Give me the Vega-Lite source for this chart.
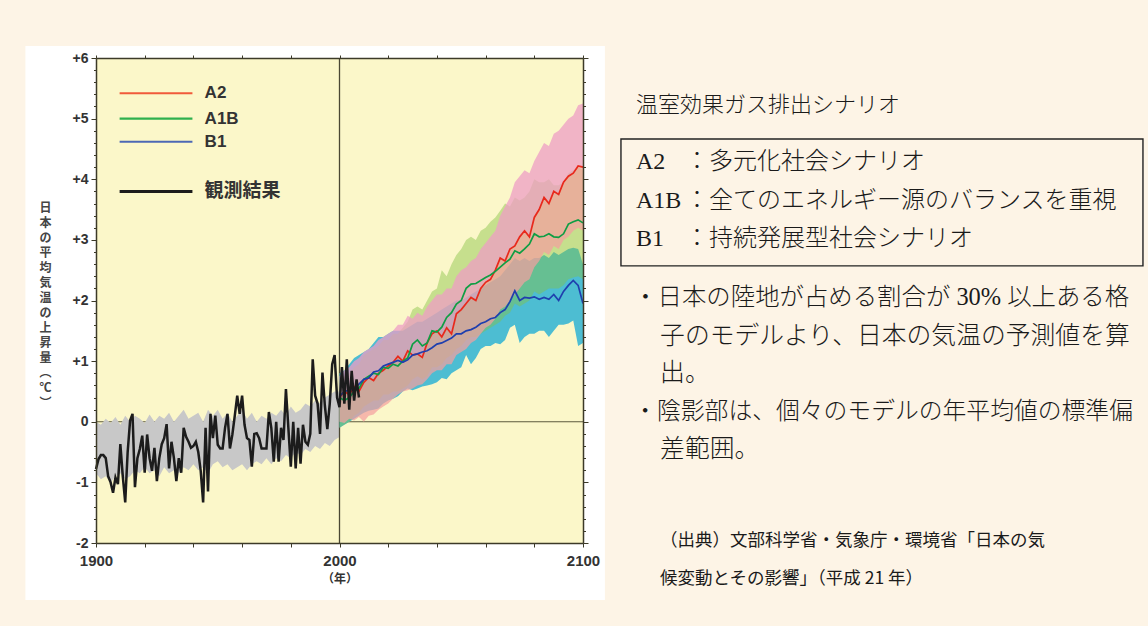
{
  "$schema": "https://vega.github.io/schema/vega-lite/v6.json",
  "background": "#fdf4e6",
  "padding": {"left": 25, "top": 45, "right": 0, "bottom": 0},
  "spacing": 15,
  "config": {"view": {"stroke": null}},
  "datasets": {
    "obs": [
      {"year":1900,"v":-0.78},{"year":1901,"v":-0.62},{"year":1902,"v":-0.55},{"year":1903,"v":-0.55},{"year":1904,"v":-0.6},
      {"year":1905,"v":-0.9},{"year":1906,"v":-1.0},{"year":1907,"v":-1.17},{"year":1908,"v":-0.92},{"year":1909,"v":-1.03},
      {"year":1910,"v":-0.37},{"year":1911,"v":-0.9},{"year":1912,"v":-1.33},{"year":1913,"v":-0.5},{"year":1914,"v":0.02},
      {"year":1915,"v":0.13},{"year":1916,"v":-1.08},{"year":1917,"v":-0.6},{"year":1918,"v":-0.45},{"year":1919,"v":-0.23},
      {"year":1920,"v":-0.84},{"year":1921,"v":-0.21},{"year":1922,"v":-0.6},{"year":1923,"v":-0.81},{"year":1924,"v":-0.43},
      {"year":1925,"v":-0.98},{"year":1926,"v":-0.6},{"year":1927,"v":-0.37},{"year":1928,"v":-0.27},{"year":1929,"v":-0.04},
      {"year":1930,"v":-0.77},{"year":1931,"v":-0.33},{"year":1932,"v":-0.6},{"year":1933,"v":-0.98},{"year":1934,"v":-0.6},
      {"year":1935,"v":-0.84},{"year":1936,"v":-0.1},{"year":1937,"v":-0.25},{"year":1938,"v":-0.33},{"year":1939,"v":-0.43},
      {"year":1940,"v":-0.4},{"year":1941,"v":-0.33},{"year":1942,"v":-0.5},{"year":1943,"v":-0.81},{"year":1944,"v":-1.33},
      {"year":1945,"v":-0.1},{"year":1946,"v":-1.15},{"year":1947,"v":0.13},{"year":1948,"v":-0.27},{"year":1949,"v":0.1},
      {"year":1950,"v":-0.38},{"year":1951,"v":-0.44},{"year":1952,"v":-0.44},{"year":1953,"v":-0.1},{"year":1954,"v":0.13},
      {"year":1955,"v":-0.44},{"year":1956,"v":-0.21},{"year":1957,"v":0.1},{"year":1958,"v":0.43},{"year":1959,"v":0.13},
      {"year":1960,"v":0.43},{"year":1961,"v":-0.05},{"year":1962,"v":-0.27},{"year":1963,"v":-0.3},{"year":1964,"v":-0.74},
      {"year":1965,"v":-0.2},{"year":1966,"v":-0.19},{"year":1967,"v":-0.27},{"year":1968,"v":-0.44},{"year":1969,"v":-0.44},
      {"year":1970,"v":-0.44},{"year":1971,"v":0.16},{"year":1972,"v":-0.1},{"year":1973,"v":-0.66},{"year":1974,"v":0.0},
      {"year":1975,"v":-0.66},{"year":1976,"v":-0.1},{"year":1977,"v":-0.3},{"year":1978,"v":0.54},{"year":1979,"v":-0.1},
      {"year":1980,"v":-0.74},{"year":1981,"v":0.0},{"year":1982,"v":-0.77},{"year":1983,"v":-0.1},{"year":1984,"v":-0.69},
      {"year":1985,"v":-0.05},{"year":1986,"v":-0.33},{"year":1987,"v":-0.38},{"year":1988,"v":-0.2},{"year":1989,"v":1.03},
      {"year":1990,"v":0.43},{"year":1991,"v":0.3},{"year":1992,"v":-0.2},{"year":1993,"v":0.81},{"year":1994,"v":0.26},
      {"year":1995,"v":-0.12},{"year":1996,"v":0.3},{"year":1997,"v":0.95},{"year":1998,"v":1.1},{"year":1999,"v":0.4},
      {"year":2000,"v":0.24},{"year":2001,"v":0.9},{"year":2002,"v":0.3},{"year":2003,"v":1.03},{"year":2004,"v":0.2},
      {"year":2005,"v":0.84},{"year":2006,"v":0.35},{"year":2007,"v":0.7},{"year":2008,"v":0.4}
    ],
    "grey": [
      {"year":1900,"lo":-0.85,"hi":0.0},{"year":1902,"lo":-0.95,"hi":-0.05},{"year":1904,"lo":-0.9,"hi":0.05},{"year":1906,"lo":-1.0,"hi":-0.02},
      {"year":1908,"lo":-0.9,"hi":0.08},{"year":1910,"lo":-0.85,"hi":-0.05},{"year":1912,"lo":-0.95,"hi":0.1},{"year":1914,"lo":-0.9,"hi":0.0},
      {"year":1916,"lo":-0.8,"hi":0.1},{"year":1918,"lo":-0.85,"hi":0.05},{"year":1920,"lo":-0.75,"hi":-0.02},{"year":1922,"lo":-0.85,"hi":0.12},
      {"year":1924,"lo":-0.8,"hi":0.0},{"year":1926,"lo":-0.9,"hi":0.1},{"year":1928,"lo":-0.75,"hi":0.05},{"year":1930,"lo":-0.85,"hi":0.15},
      {"year":1932,"lo":-0.8,"hi":0.0},{"year":1934,"lo":-0.85,"hi":0.1},{"year":1936,"lo":-0.75,"hi":0.2},{"year":1938,"lo":-0.8,"hi":0.05},
      {"year":1940,"lo":-0.7,"hi":0.1},{"year":1942,"lo":-0.8,"hi":0.15},{"year":1944,"lo":-0.75,"hi":0.0},{"year":1946,"lo":-0.85,"hi":0.2},
      {"year":1948,"lo":-0.7,"hi":0.1},{"year":1950,"lo":-0.65,"hi":0.2},{"year":1952,"lo":-0.75,"hi":0.05},{"year":1954,"lo":-0.7,"hi":0.15},
      {"year":1956,"lo":-0.8,"hi":0.0},{"year":1958,"lo":-0.75,"hi":0.1},{"year":1960,"lo":-0.7,"hi":0.2},{"year":1962,"lo":-0.8,"hi":0.05},
      {"year":1964,"lo":-0.7,"hi":0.15},{"year":1966,"lo":-0.65,"hi":0.0},{"year":1968,"lo":-0.7,"hi":0.1},{"year":1970,"lo":-0.6,"hi":0.05},
      {"year":1972,"lo":-0.7,"hi":0.15},{"year":1974,"lo":-0.6,"hi":0.1},{"year":1976,"lo":-0.65,"hi":0.2},{"year":1978,"lo":-0.55,"hi":0.1},
      {"year":1980,"lo":-0.6,"hi":0.25},{"year":1982,"lo":-0.5,"hi":0.15},{"year":1984,"lo":-0.55,"hi":0.2},{"year":1986,"lo":-0.45,"hi":0.3},
      {"year":1988,"lo":-0.5,"hi":0.25},{"year":1990,"lo":-0.4,"hi":0.35},{"year":1992,"lo":-0.45,"hi":0.3},{"year":1994,"lo":-0.35,"hi":0.4},
      {"year":1996,"lo":-0.4,"hi":0.45},{"year":1998,"lo":-0.3,"hi":0.5},{"year":2000,"lo":-0.25,"hi":0.5}
    ],
    "proj": [
      {"year":2000,"s":"A2","m":0.40,"lo":0.00,"hi":0.75},{"year":2002,"s":"A2","m":0.50,"lo":-0.02,"hi":0.85},{"year":2004,"s":"A2","m":0.45,"lo":0.05,"hi":0.90},
      {"year":2006,"s":"A2","m":0.58,"lo":0.02,"hi":1.00},{"year":2008,"s":"A2","m":0.50,"lo":0.08,"hi":1.05},{"year":2010,"s":"A2","m":0.65,"lo":0.00,"hi":1.15},
      {"year":2012,"s":"A2","m":0.73,"lo":0.10,"hi":1.20},{"year":2014,"s":"A2","m":0.68,"lo":0.12,"hi":1.25},{"year":2016,"s":"A2","m":0.80,"lo":0.20,"hi":1.35},
      {"year":2018,"s":"A2","m":0.85,"lo":0.25,"hi":1.40},{"year":2020,"s":"A2","m":0.92,"lo":0.30,"hi":1.45},{"year":2022,"s":"A2","m":0.98,"lo":0.38,"hi":1.50},
      {"year":2024,"s":"A2","m":1.08,"lo":0.45,"hi":1.60},{"year":2026,"s":"A2","m":1.00,"lo":0.50,"hi":1.60},{"year":2028,"s":"A2","m":1.17,"lo":0.52,"hi":1.75},
      {"year":2030,"s":"A2","m":1.10,"lo":0.55,"hi":1.70},{"year":2032,"s":"A2","m":1.12,"lo":0.60,"hi":1.80},{"year":2034,"s":"A2","m":1.06,"lo":0.62,"hi":1.75},
      {"year":2036,"s":"A2","m":1.30,"lo":0.70,"hi":1.90},{"year":2038,"s":"A2","m":1.45,"lo":0.80,"hi":2.00},{"year":2040,"s":"A2","m":1.50,"lo":0.85,"hi":2.10},
      {"year":2042,"s":"A2","m":1.40,"lo":0.85,"hi":2.10},{"year":2044,"s":"A2","m":1.55,"lo":0.95,"hi":2.20},{"year":2046,"s":"A2","m":1.45,"lo":0.95,"hi":2.20},
      {"year":2048,"s":"A2","m":1.78,"lo":1.10,"hi":2.40},{"year":2050,"s":"A2","m":1.85,"lo":1.15,"hi":2.50},{"year":2052,"s":"A2","m":1.95,"lo":1.20,"hi":2.55},
      {"year":2054,"s":"A2","m":2.05,"lo":1.30,"hi":2.65},{"year":2056,"s":"A2","m":2.00,"lo":1.35,"hi":2.70},{"year":2058,"s":"A2","m":2.20,"lo":1.45,"hi":2.85},
      {"year":2060,"s":"A2","m":2.30,"lo":1.55,"hi":2.95},{"year":2062,"s":"A2","m":2.35,"lo":1.60,"hi":3.05},{"year":2064,"s":"A2","m":2.50,"lo":1.70,"hi":3.15},
      {"year":2066,"s":"A2","m":2.70,"lo":1.85,"hi":3.40},{"year":2068,"s":"A2","m":2.65,"lo":1.90,"hi":3.55},{"year":2070,"s":"A2","m":2.85,"lo":2.00,"hi":3.70},
      {"year":2072,"s":"A2","m":2.90,"lo":2.10,"hi":3.95},{"year":2074,"s":"A2","m":3.05,"lo":2.20,"hi":4.05},{"year":2076,"s":"A2","m":3.15,"lo":2.30,"hi":4.15},
      {"year":2078,"s":"A2","m":3.05,"lo":2.35,"hi":4.10},{"year":2080,"s":"A2","m":3.37,"lo":2.55,"hi":4.30},{"year":2082,"s":"A2","m":3.50,"lo":2.65,"hi":4.45},
      {"year":2084,"s":"A2","m":3.70,"lo":2.80,"hi":4.60},{"year":2086,"s":"A2","m":3.60,"lo":2.75,"hi":4.55},{"year":2088,"s":"A2","m":3.80,"lo":2.90,"hi":4.75},
      {"year":2090,"s":"A2","m":3.75,"lo":2.85,"hi":4.80},{"year":2092,"s":"A2","m":3.95,"lo":3.00,"hi":4.90},{"year":2094,"s":"A2","m":4.05,"lo":3.05,"hi":5.00},
      {"year":2096,"s":"A2","m":4.10,"lo":3.15,"hi":5.05},{"year":2098,"s":"A2","m":4.22,"lo":3.20,"hi":5.22},{"year":2100,"s":"A2","m":4.20,"lo":3.15,"hi":5.25},

      {"year":2000,"s":"A1B","m":0.40,"lo":-0.10,"hi":0.70},{"year":2002,"s":"A1B","m":0.35,"lo":-0.05,"hi":0.75},{"year":2004,"s":"A1B","m":0.40,"lo":0.00,"hi":0.80},
      {"year":2006,"s":"A1B","m":0.50,"lo":0.10,"hi":0.90},{"year":2008,"s":"A1B","m":0.55,"lo":0.15,"hi":0.95},{"year":2010,"s":"A1B","m":0.70,"lo":0.25,"hi":1.10},
      {"year":2012,"s":"A1B","m":0.75,"lo":0.30,"hi":1.15},{"year":2014,"s":"A1B","m":0.80,"lo":0.35,"hi":1.20},{"year":2016,"s":"A1B","m":0.78,"lo":0.35,"hi":1.25},
      {"year":2018,"s":"A1B","m":0.90,"lo":0.45,"hi":1.35},{"year":2020,"s":"A1B","m":0.88,"lo":0.45,"hi":1.35},{"year":2022,"s":"A1B","m":0.95,"lo":0.50,"hi":1.45},
      {"year":2024,"s":"A1B","m":0.92,"lo":0.50,"hi":1.45},{"year":2026,"s":"A1B","m":1.00,"lo":0.55,"hi":1.55},{"year":2028,"s":"A1B","m":1.05,"lo":0.60,"hi":1.65},
      {"year":2030,"s":"A1B","m":1.28,"lo":0.70,"hi":1.85},{"year":2032,"s":"A1B","m":1.35,"lo":0.75,"hi":1.90},{"year":2034,"s":"A1B","m":1.25,"lo":0.70,"hi":1.85},
      {"year":2036,"s":"A1B","m":1.30,"lo":0.75,"hi":2.00},{"year":2038,"s":"A1B","m":1.50,"lo":0.90,"hi":2.15},{"year":2040,"s":"A1B","m":1.48,"lo":0.90,"hi":2.20},
      {"year":2042,"s":"A1B","m":1.56,"lo":0.95,"hi":2.50},{"year":2044,"s":"A1B","m":1.72,"lo":1.05,"hi":2.40},{"year":2046,"s":"A1B","m":1.80,"lo":1.10,"hi":2.60},
      {"year":2048,"s":"A1B","m":1.94,"lo":1.20,"hi":2.75},{"year":2050,"s":"A1B","m":2.00,"lo":1.25,"hi":2.85},{"year":2052,"s":"A1B","m":2.20,"lo":1.35,"hi":3.00},
      {"year":2054,"s":"A1B","m":2.27,"lo":1.40,"hi":3.05},{"year":2056,"s":"A1B","m":2.28,"lo":1.40,"hi":3.00},{"year":2058,"s":"A1B","m":2.33,"lo":1.45,"hi":3.15},
      {"year":2060,"s":"A1B","m":2.38,"lo":1.50,"hi":3.20},{"year":2062,"s":"A1B","m":2.42,"lo":1.55,"hi":3.30},{"year":2064,"s":"A1B","m":2.48,"lo":1.60,"hi":3.37},
      {"year":2066,"s":"A1B","m":2.55,"lo":1.65,"hi":3.48},{"year":2068,"s":"A1B","m":2.62,"lo":1.75,"hi":3.60},{"year":2070,"s":"A1B","m":2.68,"lo":1.80,"hi":3.55},
      {"year":2072,"s":"A1B","m":2.82,"lo":1.95,"hi":3.70},{"year":2074,"s":"A1B","m":2.78,"lo":1.90,"hi":3.65},{"year":2076,"s":"A1B","m":2.85,"lo":1.95,"hi":3.70},
      {"year":2078,"s":"A1B","m":2.93,"lo":2.00,"hi":3.80},{"year":2080,"s":"A1B","m":3.10,"lo":2.15,"hi":4.00},{"year":2082,"s":"A1B","m":3.05,"lo":2.10,"hi":3.95},
      {"year":2084,"s":"A1B","m":3.06,"lo":2.15,"hi":3.95},{"year":2086,"s":"A1B","m":3.10,"lo":2.20,"hi":4.00},{"year":2088,"s":"A1B","m":3.05,"lo":2.20,"hi":3.90},
      {"year":2090,"s":"A1B","m":3.04,"lo":2.20,"hi":3.90},{"year":2092,"s":"A1B","m":3.10,"lo":2.25,"hi":3.95},{"year":2094,"s":"A1B","m":3.26,"lo":2.35,"hi":4.10},
      {"year":2096,"s":"A1B","m":3.30,"lo":2.38,"hi":4.15},{"year":2098,"s":"A1B","m":3.33,"lo":2.40,"hi":4.20},{"year":2100,"s":"A1B","m":3.28,"lo":2.35,"hi":4.15},

      {"year":2000,"s":"B1","m":0.42,"lo":-0.10,"hi":0.80},{"year":2002,"s":"B1","m":0.50,"lo":-0.05,"hi":0.85},{"year":2004,"s":"B1","m":0.52,"lo":0.00,"hi":0.95},
      {"year":2006,"s":"B1","m":0.55,"lo":0.05,"hi":1.05},{"year":2008,"s":"B1","m":0.62,"lo":0.10,"hi":1.10},{"year":2010,"s":"B1","m":0.70,"lo":0.15,"hi":1.15},
      {"year":2012,"s":"B1","m":0.72,"lo":0.18,"hi":1.20},{"year":2014,"s":"B1","m":0.82,"lo":0.20,"hi":1.30},{"year":2016,"s":"B1","m":0.84,"lo":0.22,"hi":1.40},
      {"year":2018,"s":"B1","m":0.92,"lo":0.30,"hi":1.40},{"year":2020,"s":"B1","m":0.95,"lo":0.35,"hi":1.45},{"year":2022,"s":"B1","m":0.98,"lo":0.38,"hi":1.50},
      {"year":2024,"s":"B1","m":1.01,"lo":0.42,"hi":1.50},{"year":2026,"s":"B1","m":0.98,"lo":0.50,"hi":1.50},{"year":2028,"s":"B1","m":1.02,"lo":0.55,"hi":1.55},
      {"year":2030,"s":"B1","m":1.10,"lo":0.52,"hi":1.60},{"year":2032,"s":"B1","m":1.12,"lo":0.55,"hi":1.65},{"year":2034,"s":"B1","m":1.15,"lo":0.58,"hi":1.65},
      {"year":2036,"s":"B1","m":1.17,"lo":0.60,"hi":1.70},{"year":2038,"s":"B1","m":1.22,"lo":0.62,"hi":1.75},{"year":2040,"s":"B1","m":1.28,"lo":0.65,"hi":1.80},
      {"year":2042,"s":"B1","m":1.30,"lo":0.72,"hi":1.85},{"year":2044,"s":"B1","m":1.34,"lo":0.70,"hi":1.90},{"year":2046,"s":"B1","m":1.38,"lo":0.80,"hi":1.95},
      {"year":2048,"s":"B1","m":1.45,"lo":0.85,"hi":2.00},{"year":2050,"s":"B1","m":1.45,"lo":0.90,"hi":2.00},{"year":2052,"s":"B1","m":1.50,"lo":1.10,"hi":2.05},
      {"year":2054,"s":"B1","m":1.52,"lo":0.95,"hi":2.10},{"year":2056,"s":"B1","m":1.56,"lo":1.05,"hi":2.15},{"year":2058,"s":"B1","m":1.62,"lo":1.20,"hi":2.20},
      {"year":2060,"s":"B1","m":1.65,"lo":1.25,"hi":2.25},{"year":2062,"s":"B1","m":1.70,"lo":1.25,"hi":2.30},{"year":2064,"s":"B1","m":1.72,"lo":1.30,"hi":2.35},
      {"year":2066,"s":"B1","m":1.80,"lo":1.28,"hi":2.40},{"year":2068,"s":"B1","m":1.85,"lo":1.35,"hi":2.50},{"year":2070,"s":"B1","m":1.98,"lo":1.55,"hi":2.60},
      {"year":2072,"s":"B1","m":2.16,"lo":1.60,"hi":2.70},{"year":2074,"s":"B1","m":2.00,"lo":1.30,"hi":2.65},{"year":2076,"s":"B1","m":2.05,"lo":1.40,"hi":2.70},
      {"year":2078,"s":"B1","m":2.04,"lo":1.45,"hi":2.65},{"year":2080,"s":"B1","m":2.06,"lo":1.45,"hi":2.70},{"year":2082,"s":"B1","m":2.02,"lo":1.50,"hi":2.70},
      {"year":2084,"s":"B1","m":2.05,"lo":1.50,"hi":2.75},{"year":2086,"s":"B1","m":2.02,"lo":1.40,"hi":2.70},{"year":2088,"s":"B1","m":2.10,"lo":1.50,"hi":2.80},
      {"year":2090,"s":"B1","m":2.00,"lo":1.60,"hi":2.75},{"year":2092,"s":"B1","m":2.15,"lo":1.60,"hi":2.80},{"year":2094,"s":"B1","m":2.25,"lo":1.62,"hi":2.85},
      {"year":2096,"s":"B1","m":2.33,"lo":1.67,"hi":2.87},{"year":2098,"s":"B1","m":2.25,"lo":1.25,"hi":2.85},{"year":2100,"s":"B1","m":1.95,"lo":1.30,"hi":2.60}
    ]
  },
  "hconcat": [
    {
      "width": 487,
      "height": 485,
      "resolve": {"axis": {"x": "independent", "y": "independent"}},
      "layer": [
        {
          "data": {"values": [{}]},
          "mark": {"type": "rect", "fill": "#ffffff"},
          "encoding": {
            "x": {"datum": 1871, "type": "quantitative", "scale": {"domain": [1900, 2100], "nice": false, "zero": false}, "axis": null},
            "x2": {"datum": 2109},
            "y": {"datum": -2.94, "type": "quantitative", "scale": {"domain": [-2, 6], "nice": false, "zero": false}, "axis": null},
            "y2": {"datum": 6.2}
          }
        },
        {
          "data": {"values": [{}]},
          "mark": {"type": "rect", "fill": "#fbf7c9"},
          "encoding": {
            "x": {"datum": 1900, "type": "quantitative", "scale": {"domain": [1900, 2100], "nice": false, "zero": false}, "axis": null},
            "x2": {"datum": 2100},
            "y": {"datum": -2, "type": "quantitative", "scale": {"domain": [-2, 6], "nice": false, "zero": false}, "axis": null},
            "y2": {"datum": 6}
          }
        },
        {
          "data": {"values": [{}]},
          "mark": {"type": "rule", "color": "#5d5a3c", "strokeWidth": 1},
          "encoding": {
            "x": {"datum": 1900, "type": "quantitative", "scale": {"domain": [1900, 2100], "nice": false, "zero": false}, "axis": null},
            "x2": {"datum": 2100},
            "y": {"datum": 0, "type": "quantitative", "scale": {"domain": [-2, 6], "nice": false, "zero": false}, "axis": null}
          }
        },
        {
          "data": {"name": "grey"},
          "mark": {"type": "area", "color": "#c8c8c8"},
          "encoding": {
            "x": {
              "field": "year", "type": "quantitative",
              "scale": {"domain": [1900, 2100], "nice": false, "zero": false},
              "axis": {
                "orient": "bottom",
                "values": [1900, 1920, 1940, 1960, 1980, 2000, 2020, 2040, 2060, 2080, 2100],
                "labelExpr": "datum.value % 100 === 0 ? '' + datum.value : ''",
                "labelFont": "Liberation Sans", "labelFontWeight": "bold", "labelFontSize": 15, "labelColor": "#333333",
                "labelPadding": 6, "labelFlush": false, "labelOverlap": false,
                "tickSize": 4, "tickColor": "#3c3a28", "domainColor": "#3c3a28", "domainWidth": 1.5, "grid": false, "zindex": 1,
                "title": "（年）", "titleFont": "Noto Sans CJK JP", "titleFontSize": 12, "titleFontWeight": "bold", "titleColor": "#333333", "titlePadding": 5
              }
            },
            "y": {
              "field": "lo", "type": "quantitative",
              "scale": {"domain": [-2, 6], "nice": false, "zero": false},
              "axis": {
                "orient": "left",
                "values": [-2,-1.8,-1.6,-1.4,-1.2,-1,-0.8,-0.6,-0.4,-0.2,0,0.2,0.4,0.6,0.8,1,1.2,1.4,1.6,1.8,2,2.2,2.4,2.6,2.8,3,3.2,3.4,3.6,3.8,4,4.2,4.4,4.6,4.8,5,5.2,5.4,5.6,5.8,6],
                "labelExpr": "abs(datum.value - round(datum.value)) < 0.01 ? (datum.value > 0.5 ? '+' + round(datum.value) : '' + round(datum.value)) : ''",
                "labelFont": "Liberation Sans", "labelFontWeight": "bold", "labelFontSize": 14, "labelColor": "#333333",
                "labelPadding": 3, "labelFlush": false, "labelOverlap": false,
                "tickSize": {"condition": {"test": "abs(datum.value - round(datum.value)) < 0.01", "value": 5}, "value": 2.5},
                "tickColor": "#3c3a28", "domainColor": "#3c3a28", "domainWidth": 1.5, "grid": false, "zindex": 1,
                "title": ["日","本","の","平","均","気","温","の","上","昇","量","︵","℃","︶"],
                "titleAngle": 0, "titleAlign": "center", "titleBaseline": "middle",
                "titleX": -51, "titleY": 149, "titleLineHeight": 15,
                "titleFont": "Noto Sans CJK JP", "titleFontSize": 12, "titleFontWeight": "bold", "titleColor": "#444444"
              }
            },
            "y2": {"field": "hi"}
          }
        },
        {
          "data": {"values": [{}]},
          "mark": {"type": "rule", "color": "#4a4733", "strokeWidth": 1.3},
          "encoding": {
            "x": {"datum": 2000, "type": "quantitative", "scale": {"domain": [1900, 2100], "nice": false, "zero": false}, "axis": null},
            "y": {"datum": -2, "type": "quantitative", "scale": {"domain": [-2, 6], "nice": false, "zero": false}, "axis": null},
            "y2": {"datum": 6}
          }
        },
        {
          "data": {"name": "proj"},
          "transform": [{"filter": "datum.s === 'B1'"}],
          "mark": {"type": "area", "color": "#4dbdd2", "opacity": 1},
          "encoding": {
            "x": {"field": "year", "type": "quantitative", "scale": {"domain": [1900, 2100], "nice": false, "zero": false}, "axis": null},
            "y": {"field": "lo", "type": "quantitative", "scale": {"domain": [-2, 6], "nice": false, "zero": false}, "axis": null},
            "y2": {"field": "hi"}
          }
        },
        {
          "data": {"name": "proj"},
          "transform": [{"filter": "datum.s === 'A1B'"}],
          "mark": {"type": "area", "color": "#85c144", "opacity": 0.45},
          "encoding": {
            "x": {"field": "year", "type": "quantitative", "scale": {"domain": [1900, 2100], "nice": false, "zero": false}, "axis": null},
            "y": {"field": "lo", "type": "quantitative", "scale": {"domain": [-2, 6], "nice": false, "zero": false}, "axis": null},
            "y2": {"field": "hi"}
          }
        },
        {
          "data": {"name": "proj"},
          "transform": [{"filter": "datum.s === 'A2'"}],
          "mark": {"type": "area", "color": "#f4a0a0", "opacity": 0.72},
          "encoding": {
            "x": {"field": "year", "type": "quantitative", "scale": {"domain": [1900, 2100], "nice": false, "zero": false}, "axis": null},
            "y": {"field": "lo", "type": "quantitative", "scale": {"domain": [-2, 6], "nice": false, "zero": false}, "axis": null},
            "y2": {"field": "m"}
          }
        },
        {
          "data": {"name": "proj"},
          "transform": [{"filter": "datum.s === 'A2'"}],
          "mark": {"type": "area", "color": "#ee9ec4", "opacity": 0.75},
          "encoding": {
            "x": {"field": "year", "type": "quantitative", "scale": {"domain": [1900, 2100], "nice": false, "zero": false}, "axis": null},
            "y": {"field": "m", "type": "quantitative", "scale": {"domain": [-2, 6], "nice": false, "zero": false}, "axis": null},
            "y2": {"field": "hi"}
          }
        },
        {
          "data": {"name": "proj"},
          "mark": {"type": "line", "strokeWidth": 1.7},
          "encoding": {
            "x": {"field": "year", "type": "quantitative", "scale": {"domain": [1900, 2100], "nice": false, "zero": false}, "axis": null},
            "y": {"field": "m", "type": "quantitative", "scale": {"domain": [-2, 6], "nice": false, "zero": false}, "axis": null},
            "color": {"field": "s", "type": "nominal", "scale": {"domain": ["A2", "A1B", "B1"], "range": ["#e8291c", "#0f9e44", "#1f3fae"]}, "legend": null}
          }
        },
        {
          "data": {"name": "obs"},
          "mark": {"type": "line", "color": "#1c1c1c", "strokeWidth": 2.5},
          "encoding": {
            "x": {
              "field": "year", "type": "quantitative",
              "scale": {"domain": [1900, 2100], "nice": false, "zero": false},
              "axis": {
                "orient": "top", "values": [1900, 1920, 1940, 1960, 1980, 2000, 2020, 2040, 2060, 2080, 2100],
                "labels": false, "tickSize": 3, "tickColor": "#3c3a28", "domainColor": "#3c3a28", "domainWidth": 1.5, "grid": false, "zindex": 1, "title": null
              }
            },
            "y": {
              "field": "v", "type": "quantitative",
              "scale": {"domain": [-2, 6], "nice": false, "zero": false},
              "axis": {
                "orient": "right",
                "values": [-2,-1.8,-1.6,-1.4,-1.2,-1,-0.8,-0.6,-0.4,-0.2,0,0.2,0.4,0.6,0.8,1,1.2,1.4,1.6,1.8,2,2.2,2.4,2.6,2.8,3,3.2,3.4,3.6,3.8,4,4.2,4.4,4.6,4.8,5,5.2,5.4,5.6,5.8,6],
                "labels": false,
                "tickSize": {"condition": {"test": "abs(datum.value - round(datum.value)) < 0.01", "value": 5}, "value": 2.5},
                "tickColor": "#3c3a28", "domainColor": "#3c3a28", "domainWidth": 1.5, "grid": false, "zindex": 1, "title": null
              }
            }
          }
        },
        {
          "data": {"values": [{}]},
          "mark": {"type": "rule", "color": "#f05a3a", "strokeWidth": 2},
          "encoding": {
            "x": {"datum": 1909.7, "type": "quantitative", "scale": {"domain": [1900, 2100], "nice": false, "zero": false}, "axis": null},
            "x2": {"datum": 1939.6},
            "y": {"datum": 5.42, "type": "quantitative", "scale": {"domain": [-2, 6], "nice": false, "zero": false}, "axis": null}
          }
        },
        {
          "data": {"values": [{}]},
          "mark": {"type": "rule", "color": "#2fb04e", "strokeWidth": 2.2},
          "encoding": {
            "x": {"datum": 1909.7, "type": "quantitative", "scale": {"domain": [1900, 2100], "nice": false, "zero": false}, "axis": null},
            "x2": {"datum": 1939.6},
            "y": {"datum": 5.0, "type": "quantitative", "scale": {"domain": [-2, 6], "nice": false, "zero": false}, "axis": null}
          }
        },
        {
          "data": {"values": [{}]},
          "mark": {"type": "rule", "color": "#4c68b4", "strokeWidth": 2},
          "encoding": {
            "x": {"datum": 1909.7, "type": "quantitative", "scale": {"domain": [1900, 2100], "nice": false, "zero": false}, "axis": null},
            "x2": {"datum": 1939.6},
            "y": {"datum": 4.62, "type": "quantitative", "scale": {"domain": [-2, 6], "nice": false, "zero": false}, "axis": null}
          }
        },
        {
          "data": {"values": [{}]},
          "mark": {"type": "rule", "color": "#1c1c1c", "strokeWidth": 3},
          "encoding": {
            "x": {"datum": 1909.7, "type": "quantitative", "scale": {"domain": [1900, 2100], "nice": false, "zero": false}, "axis": null},
            "x2": {"datum": 1939.6},
            "y": {"datum": 3.8, "type": "quantitative", "scale": {"domain": [-2, 6], "nice": false, "zero": false}, "axis": null}
          }
        },
        {
          "data": {"values": [{}]},
          "mark": {"type": "text", "align": "left", "baseline": "middle", "font": "Liberation Sans", "fontWeight": "bold", "fontSize": 17, "color": "#333333"},
          "encoding": {
            "x": {"datum": 1944.6, "type": "quantitative", "scale": {"domain": [1900, 2100], "nice": false, "zero": false}, "axis": null},
            "y": {"datum": 5.42, "type": "quantitative", "scale": {"domain": [-2, 6], "nice": false, "zero": false}, "axis": null},
            "text": {"value": "A2"}
          }
        },
        {
          "data": {"values": [{}]},
          "mark": {"type": "text", "align": "left", "baseline": "middle", "font": "Liberation Sans", "fontWeight": "bold", "fontSize": 17, "color": "#333333"},
          "encoding": {
            "x": {"datum": 1944.6, "type": "quantitative", "scale": {"domain": [1900, 2100], "nice": false, "zero": false}, "axis": null},
            "y": {"datum": 5.0, "type": "quantitative", "scale": {"domain": [-2, 6], "nice": false, "zero": false}, "axis": null},
            "text": {"value": "A1B"}
          }
        },
        {
          "data": {"values": [{}]},
          "mark": {"type": "text", "align": "left", "baseline": "middle", "font": "Liberation Sans", "fontWeight": "bold", "fontSize": 17, "color": "#333333"},
          "encoding": {
            "x": {"datum": 1944.6, "type": "quantitative", "scale": {"domain": [1900, 2100], "nice": false, "zero": false}, "axis": null},
            "y": {"datum": 4.62, "type": "quantitative", "scale": {"domain": [-2, 6], "nice": false, "zero": false}, "axis": null},
            "text": {"value": "B1"}
          }
        },
        {
          "data": {"values": [{}]},
          "mark": {"type": "text", "align": "left", "baseline": "middle", "font": "Noto Sans CJK JP", "fontWeight": "bold", "fontSize": 19, "color": "#333333"},
          "encoding": {
            "x": {"datum": 1944.6, "type": "quantitative", "scale": {"domain": [1900, 2100], "nice": false, "zero": false}, "axis": null},
            "y": {"datum": 3.8, "type": "quantitative", "scale": {"domain": [-2, 6], "nice": false, "zero": false}, "axis": null},
            "text": {"value": "観測結果"}
          }
        }
      ]
    },
    {
      "width": 528,
      "height": 570,
      "data": {"values": [{}]},
      "layer": [
        {
          "mark": {"type": "rect", "filled": false, "stroke": "#222222", "strokeWidth": 1.4},
          "encoding": {
            "x": {"datum": 0.04, "type": "quantitative", "scale": {"domain": [0, 22], "nice": false, "zero": false}, "axis": null},
            "x2": {"datum": 21.79},
            "y": {"datum": 2.13, "type": "quantitative", "scale": {"domain": [0, 15], "reverse": true, "nice": false, "zero": false}, "axis": null},
            "y2": {"datum": 5.47}
          }
        },
        {
          "mark": {"type": "text", "align": "left", "baseline": "middle", "font": "Liberation Serif, Noto Sans CJK JP", "fontWeight": 300, "fontSize": 22, "color": "#1a1a1a"},
          "encoding": {
            "x": {"datum": 0.667, "type": "quantitative", "axis": null},
            "y": {"datum": 1.24, "type": "quantitative", "axis": null},
            "text": {"value": "温室効果ガス排出シナリオ"}
          }
        },
        {
          "mark": {"type": "text", "align": "left", "baseline": "middle", "font": "Liberation Serif, Noto Sans CJK JP", "fontWeight": 300, "fontSize": 24, "color": "#1a1a1a"},
          "encoding": {
            "x": {"datum": 0.667, "type": "quantitative", "axis": null},
            "y": {"datum": 2.74, "type": "quantitative", "axis": null},
            "text": {"value": "A2"}
          }
        },
        {
          "mark": {"type": "text", "align": "left", "baseline": "middle", "font": "Liberation Serif, Noto Sans CJK JP", "fontWeight": 300, "fontSize": 24, "color": "#1a1a1a"},
          "encoding": {
            "x": {"datum": 2.71, "type": "quantitative", "axis": null},
            "y": {"datum": 2.74, "type": "quantitative", "axis": null},
            "text": {"value": "：多元化社会シナリオ"}
          }
        },
        {
          "mark": {"type": "text", "align": "left", "baseline": "middle", "font": "Liberation Serif, Noto Sans CJK JP", "fontWeight": 300, "fontSize": 24, "color": "#1a1a1a"},
          "encoding": {
            "x": {"datum": 0.667, "type": "quantitative", "axis": null},
            "y": {"datum": 3.76, "type": "quantitative", "axis": null},
            "text": {"value": "A1B"}
          }
        },
        {
          "mark": {"type": "text", "align": "left", "baseline": "middle", "font": "Liberation Serif, Noto Sans CJK JP", "fontWeight": 300, "fontSize": 24, "color": "#1a1a1a"},
          "encoding": {
            "x": {"datum": 2.71, "type": "quantitative", "axis": null},
            "y": {"datum": 3.76, "type": "quantitative", "axis": null},
            "text": {"value": "：全てのエネルギー源のバランスを重視"}
          }
        },
        {
          "mark": {"type": "text", "align": "left", "baseline": "middle", "font": "Liberation Serif, Noto Sans CJK JP", "fontWeight": 300, "fontSize": 24, "color": "#1a1a1a"},
          "encoding": {
            "x": {"datum": 0.667, "type": "quantitative", "axis": null},
            "y": {"datum": 4.76, "type": "quantitative", "axis": null},
            "text": {"value": "B1"}
          }
        },
        {
          "mark": {"type": "text", "align": "left", "baseline": "middle", "font": "Liberation Serif, Noto Sans CJK JP", "fontWeight": 300, "fontSize": 24, "color": "#1a1a1a"},
          "encoding": {
            "x": {"datum": 2.71, "type": "quantitative", "axis": null},
            "y": {"datum": 4.76, "type": "quantitative", "axis": null},
            "text": {"value": "：持続発展型社会シナリオ"}
          }
        },
        {
          "mark": {"type": "text", "align": "left", "baseline": "middle", "font": "Liberation Serif, Noto Sans CJK JP", "fontWeight": 300, "fontSize": 24.4, "color": "#1a1a1a"},
          "encoding": {
            "x": {"datum": 0.55, "type": "quantitative", "axis": null},
            "y": {"datum": 6.32, "type": "quantitative", "axis": null},
            "text": {"value": "・日本の陸地が占める割合が 30% 以上ある格"}
          }
        },
        {
          "mark": {"type": "text", "align": "left", "baseline": "middle", "font": "Liberation Serif, Noto Sans CJK JP", "fontWeight": 300, "fontSize": 24.8, "color": "#1a1a1a"},
          "encoding": {
            "x": {"datum": 1.67, "type": "quantitative", "axis": null},
            "y": {"datum": 7.34, "type": "quantitative", "axis": null},
            "text": {"value": "子のモデルより、日本の気温の予測値を算"}
          }
        },
        {
          "mark": {"type": "text", "align": "left", "baseline": "middle", "font": "Liberation Serif, Noto Sans CJK JP", "fontWeight": 300, "fontSize": 24.8, "color": "#1a1a1a"},
          "encoding": {
            "x": {"datum": 1.67, "type": "quantitative", "axis": null},
            "y": {"datum": 8.32, "type": "quantitative", "axis": null},
            "text": {"value": "出。"}
          }
        },
        {
          "mark": {"type": "text", "align": "left", "baseline": "middle", "font": "Liberation Serif, Noto Sans CJK JP", "fontWeight": 300, "fontSize": 23.8, "color": "#1a1a1a"},
          "encoding": {
            "x": {"datum": 0.55, "type": "quantitative", "axis": null},
            "y": {"datum": 9.32, "type": "quantitative", "axis": null},
            "text": {"value": "・陰影部は、個々のモデルの年平均値の標準偏"}
          }
        },
        {
          "mark": {"type": "text", "align": "left", "baseline": "middle", "font": "Liberation Serif, Noto Sans CJK JP", "fontWeight": 300, "fontSize": 24.8, "color": "#1a1a1a"},
          "encoding": {
            "x": {"datum": 1.67, "type": "quantitative", "axis": null},
            "y": {"datum": 10.32, "type": "quantitative", "axis": null},
            "text": {"value": "差範囲。"}
          }
        },
        {
          "mark": {"type": "text", "align": "left", "baseline": "middle", "font": "Noto Sans CJK JP", "fontSize": 17.5, "color": "#1a1a1a"},
          "encoding": {
            "x": {"datum": 1.67, "type": "quantitative", "axis": null},
            "y": {"datum": 12.71, "type": "quantitative", "axis": null},
            "text": {"value": "（出典）文部科学省・気象庁・環境省「日本の気"}
          }
        },
        {
          "mark": {"type": "text", "align": "left", "baseline": "middle", "font": "Noto Sans CJK JP", "fontSize": 17.5, "color": "#1a1a1a"},
          "encoding": {
            "x": {"datum": 1.67, "type": "quantitative", "axis": null},
            "y": {"datum": 13.71, "type": "quantitative", "axis": null},
            "text": {"value": "候変動とその影響」（平成 21 年）"}
          }
        }
      ]
    }
  ]
}
